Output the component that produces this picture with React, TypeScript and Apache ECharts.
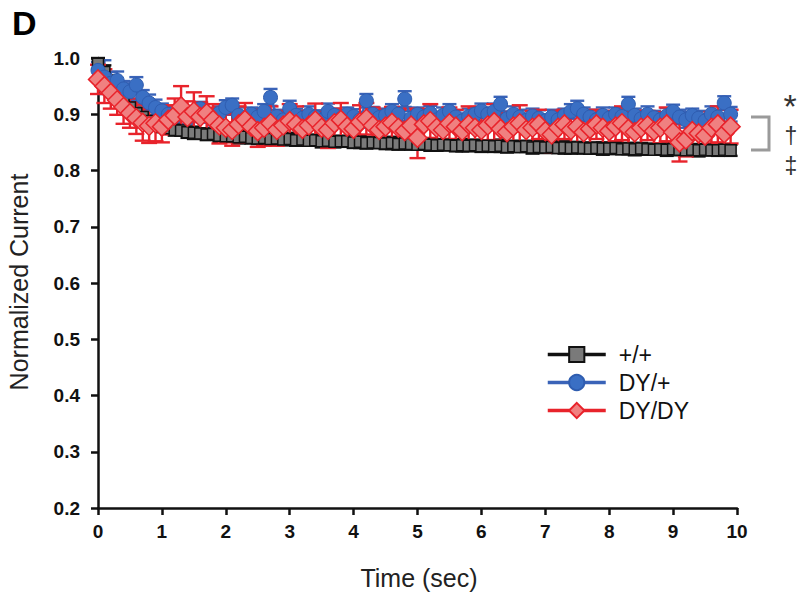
import React, { useEffect, useRef } from "react";
import * as echarts from "echarts";

const TIME_STEP = 0.1;

const WT_VALUES = [
  0.99, 0.975, 0.957, 0.94, 0.925, 0.912, 0.902, 0.895, 0.888, 0.882,
  0.878, 0.875, 0.872, 0.871, 0.868, 0.867, 0.866, 0.864, 0.865, 0.862,
  0.861, 0.861, 0.859, 0.86, 0.858, 0.857, 0.858, 0.856, 0.857, 0.855,
  0.856, 0.854, 0.855, 0.853, 0.854, 0.852, 0.853, 0.851, 0.852, 0.852,
  0.85, 0.851, 0.849, 0.85, 0.849, 0.848, 0.849, 0.847, 0.848, 0.847,
  0.846, 0.847, 0.846, 0.845, 0.846, 0.845, 0.844, 0.845, 0.844, 0.845,
  0.843, 0.844, 0.843, 0.844, 0.842, 0.843, 0.842, 0.843, 0.841, 0.842,
  0.841, 0.842, 0.84, 0.841, 0.84, 0.841, 0.84, 0.839, 0.84, 0.839,
  0.839, 0.84, 0.838, 0.839, 0.838, 0.839, 0.838, 0.837, 0.838, 0.837,
  0.838, 0.837, 0.836, 0.837, 0.836, 0.837, 0.836, 0.836, 0.837, 0.836,
];
const WT_ERR = [
  0.01, 0.012, 0.012, 0.011, 0.011, 0.01, 0.01, 0.01, 0.011, 0.01,
  0.01, 0.009, 0.01, 0.009, 0.01, 0.011, 0.009, 0.01, 0.01, 0.011,
  0.01, 0.01, 0.011, 0.009, 0.01, 0.01, 0.011, 0.01, 0.009, 0.01,
  0.011, 0.01, 0.01, 0.009, 0.01, 0.011, 0.01, 0.01, 0.01, 0.009,
  0.01, 0.011, 0.01, 0.01, 0.009, 0.01, 0.011, 0.01, 0.01, 0.01,
  0.009, 0.01, 0.011, 0.01, 0.01, 0.009, 0.01, 0.011, 0.01, 0.01,
  0.01, 0.009, 0.01, 0.011, 0.01, 0.01, 0.009, 0.01, 0.011, 0.01,
  0.01, 0.01, 0.009, 0.011, 0.01, 0.01, 0.01, 0.009, 0.01, 0.011,
  0.01, 0.01, 0.009, 0.01, 0.011, 0.01, 0.01, 0.009, 0.01, 0.011,
  0.01, 0.01, 0.009, 0.01, 0.011, 0.01, 0.009, 0.01, 0.01, 0.01,
];

const HET_VALUES = [
  0.978, 0.966, 0.955, 0.96, 0.945, 0.94, 0.952, 0.93, 0.92, 0.912,
  0.906, 0.9, 0.898, 0.905, 0.896, 0.9, 0.91, 0.898, 0.894, 0.902,
  0.912, 0.916, 0.898, 0.892, 0.9, 0.895, 0.905, 0.93, 0.896, 0.89,
  0.91, 0.898, 0.893, 0.9, 0.895, 0.889, 0.905, 0.898, 0.892, 0.9,
  0.896, 0.89, 0.924, 0.9, 0.894, 0.898, 0.905, 0.9, 0.927, 0.893,
  0.9, 0.895, 0.902, 0.89, 0.898, 0.905, 0.895, 0.888, 0.896, 0.9,
  0.906, 0.9, 0.905, 0.918, 0.892, 0.9, 0.895, 0.889, 0.897, 0.893,
  0.888, 0.895, 0.89, 0.898, 0.905, 0.91, 0.9, 0.895, 0.89, 0.898,
  0.893, 0.9, 0.896, 0.918, 0.898, 0.892, 0.9, 0.894, 0.89, 0.897,
  0.905, 0.895, 0.89, 0.898, 0.893, 0.888, 0.9, 0.895, 0.92, 0.9,
];
const HET_ERR = [
  0.015, 0.03, 0.02, 0.016, 0.014, 0.015, 0.014, 0.013, 0.015, 0.014,
  0.013, 0.014, 0.012, 0.015, 0.013, 0.014, 0.012, 0.013, 0.014, 0.012,
  0.013, 0.012, 0.014, 0.013, 0.012, 0.014, 0.013, 0.015, 0.012, 0.013,
  0.014, 0.012, 0.013, 0.014, 0.012, 0.013, 0.014, 0.012, 0.013, 0.012,
  0.013, 0.014, 0.012, 0.013, 0.014, 0.012, 0.013, 0.012, 0.014, 0.013,
  0.012, 0.014, 0.013, 0.012, 0.014, 0.013, 0.012, 0.013, 0.014, 0.012,
  0.013, 0.012, 0.014, 0.013, 0.012, 0.014, 0.013, 0.012, 0.013, 0.014,
  0.012, 0.013, 0.014, 0.012, 0.013, 0.014, 0.012, 0.013, 0.012, 0.014,
  0.013, 0.012, 0.014, 0.013, 0.012, 0.013, 0.014, 0.012, 0.013, 0.014,
  0.012, 0.013, 0.014, 0.012, 0.013, 0.012, 0.014, 0.013, 0.012, 0.013,
];

const HOM_VALUES = [
  0.962, 0.95, 0.938, 0.925, 0.913, 0.902, 0.893, 0.885, 0.879, 0.884,
  0.878, 0.89, 0.898, 0.914, 0.895, 0.905, 0.895, 0.902, 0.89, 0.88,
  0.876, 0.872, 0.882, 0.89, 0.878, 0.87, 0.876, 0.884, 0.872, 0.88,
  0.888, 0.882, 0.874, 0.88, 0.889, 0.876, 0.872, 0.884, 0.89, 0.878,
  0.874, 0.886, 0.892, 0.88, 0.872, 0.878, 0.885, 0.876, 0.87, 0.88,
  0.858, 0.882, 0.888, 0.876, 0.872, 0.884, 0.878, 0.87, 0.882, 0.876,
  0.872, 0.88, 0.886, 0.874, 0.868, 0.878, 0.884, 0.872, 0.876, 0.882,
  0.87, 0.864, 0.876, 0.882, 0.872, 0.878, 0.868, 0.874, 0.882, 0.876,
  0.87, 0.878, 0.884, 0.874, 0.868, 0.876, 0.88, 0.87, 0.876, 0.882,
  0.868, 0.85, 0.855, 0.87, 0.866, 0.862, 0.876, 0.882, 0.866, 0.878,
];
const HOM_ERR = [
  0.026, 0.03, 0.028, 0.026, 0.03, 0.026, 0.028, 0.032, 0.03, 0.032,
  0.028, 0.026, 0.03, 0.036, 0.028, 0.034, 0.026, 0.03, 0.028, 0.032,
  0.026, 0.028, 0.032, 0.03, 0.026, 0.028, 0.032, 0.03, 0.028, 0.026,
  0.03, 0.032, 0.028, 0.026, 0.03, 0.028, 0.032, 0.026, 0.03, 0.028,
  0.026, 0.03, 0.028, 0.032, 0.026, 0.03, 0.028, 0.032, 0.026, 0.03,
  0.036, 0.028, 0.03, 0.026, 0.032, 0.028, 0.03, 0.026, 0.032, 0.028,
  0.03, 0.026, 0.032, 0.028, 0.03, 0.026, 0.032, 0.028, 0.03, 0.026,
  0.028, 0.032, 0.03, 0.026, 0.028, 0.032, 0.03, 0.028, 0.026, 0.03,
  0.028, 0.026, 0.03, 0.032, 0.028, 0.03, 0.026, 0.032, 0.028, 0.03,
  0.026, 0.034, 0.03, 0.028, 0.032, 0.03, 0.028, 0.032, 0.032, 0.03,
];

const SERIES_NAMES = ["+/+", "DY/+", "DY/DY"];
const Y_TICKS = [0.2, 0.3, 0.4, 0.5, 0.6, 0.7, 0.8, 0.9, 1.0];
const X_TICKS = [0, 1, 2, 3, 4, 5, 6, 7, 8, 9, 10];
const SIG_MARKS = ["*", "\u2020", "\u2021"];

const FONT = "'Liberation Sans', Arial, Helvetica, sans-serif";

function toPoints(vals: number[], errs: number[]) {
  return vals.map((v, i) => [Number((i * TIME_STEP).toFixed(2)), v, errs[i]]);
}

function errorSeries(name: string, data: number[][], color: string, cap: number) {
  return {
    type: "custom",
    name,
    data,
    encode: { x: 0, y: 1 },
    silent: true,
    renderItem: (_params: any, api: any) => {
      const x = api.value(0);
      const y = api.value(1);
      const e = api.value(2);
      const hi = api.coord([x, y + e]);
      const lo = api.coord([x, y - e]);
      const st = { stroke: color, lineWidth: 2.4 };
      return {
        type: "group",
        children: [
          { type: "line", shape: { x1: hi[0], y1: hi[1], x2: lo[0], y2: lo[1] }, style: st },
          { type: "line", shape: { x1: hi[0] - cap, y1: hi[1], x2: hi[0] + cap, y2: hi[1] }, style: st },
          { type: "line", shape: { x1: lo[0] - cap, y1: lo[1], x2: lo[0] + cap, y2: lo[1] }, style: st },
        ],
      };
    },
  };
}

export default function App() {
  const ref = useRef<HTMLDivElement>(null);
  useEffect(() => {
    if (!ref.current) return;
    const chart = echarts.init(ref.current, null, { renderer: "svg" });
    const wt = toPoints(WT_VALUES, WT_ERR);
    const het = toPoints(HET_VALUES, HET_ERR);
    const hom = toPoints(HOM_VALUES, HOM_ERR);

    chart.setOption({
      animation: false,
      backgroundColor: "#ffffff",
      textStyle: { fontFamily: FONT },
      grid: { left: 98, top: 58, width: 639, height: 450, containLabel: false, outerBoundsMode: "none" },
      xAxis: {
        type: "value",
        min: X_TICKS[0],
        max: X_TICKS[X_TICKS.length - 1],
        interval: 1,
        axisLine: { show: true, onZero: false, lineStyle: { color: "#111", width: 2.5 } },
        axisTick: { show: true, inside: false, length: 7, lineStyle: { color: "#111", width: 2.5 } },
        axisLabel: { color: "#111", fontSize: 19, fontWeight: "bold", fontFamily: FONT, margin: 14 },
        splitLine: { show: false },
      },
      yAxis: {
        type: "value",
        min: Y_TICKS[0],
        max: Y_TICKS[Y_TICKS.length - 1],
        interval: 0.1,
        axisLine: { show: true, onZero: false, lineStyle: { color: "#111", width: 2.5 } },
        axisTick: { show: true, inside: false, length: 7, lineStyle: { color: "#111", width: 2.5 } },
        axisLabel: {
          color: "#111",
          fontSize: 19,
          fontWeight: "bold",
          fontFamily: FONT,
          margin: 18,
          formatter: (v: number) => v.toFixed(1),
        },
        splitLine: { show: false },
      },
      legend: {
        data: SERIES_NAMES,
        orient: "vertical",
        left: 546,
        top: 343,
        padding: 0,
        itemWidth: 58,
        itemHeight: 19,
        itemGap: 5,
        lineStyle: { width: 3.5 },
        textStyle: { fontSize: 23, color: "#111", fontFamily: FONT, padding: [0, 0, 0, 8] },
      },
      series: [
        errorSeries("wt-err", wt, "#111111", 7),
        {
          type: "line",
          name: SERIES_NAMES[0],
          data: wt.map((p) => [p[0], p[1]]),
          symbol: "rect",
          symbolSize: 11,
          showAllSymbol: true,
          lineStyle: { color: "#111111", width: 2.5 },
          itemStyle: { color: "#7a7a7a", borderColor: "#111111", borderWidth: 1.5 },
        },
        errorSeries("het-err", het, "#3a63b8", 7),
        {
          type: "line",
          name: SERIES_NAMES[1],
          data: het.map((p) => [p[0], p[1]]),
          symbol: "circle",
          symbolSize: 14,
          showAllSymbol: true,
          lineStyle: { color: "#3a63b8", width: 2.5 },
          itemStyle: { color: "#3a6fc4", borderColor: "#2f5db0", borderWidth: 1 },
        },
        errorSeries("hom-err", hom, "#e8232b", 8),
        {
          type: "line",
          name: SERIES_NAMES[2],
          data: hom.map((p) => [p[0], p[1]]),
          symbol: "diamond",
          symbolSize: 19,
          showAllSymbol: true,
          lineStyle: { color: "#e8232b", width: 2.5 },
          itemStyle: { color: "#f08080", borderColor: "#e8232b", borderWidth: 1.5 },
        },
      ],
      graphic: [
        {
          type: "text",
          left: 12,
          top: 6,
          style: { text: "D", font: `bold 34px ${FONT}`, fill: "#000" },
        },
        {
          type: "text",
          x: 19,
          y: 282,
          rotation: Math.PI / 2,
          style: {
            text: "Normalized Current",
            font: `25px ${FONT}`,
            fill: "#222",
            textAlign: "center",
            textVerticalAlign: "middle",
          },
        },
        {
          type: "text",
          x: 419,
          y: 578,
          style: {
            text: "Time (sec)",
            font: `25px ${FONT}`,
            fill: "#222",
            textAlign: "center",
            textVerticalAlign: "middle",
          },
        },
        {
          type: "polyline",
          shape: { points: [[751, 117], [769, 117], [769, 150], [751, 150]] },
          style: { stroke: "#9a9a9a", lineWidth: 3, fill: null },
        },
        {
          type: "text",
          x: 790,
          y: 106,
          style: { text: SIG_MARKS[0], font: `34px ${FONT}`, fill: "#333", textAlign: "center", textVerticalAlign: "middle" },
        },
        {
          type: "text",
          x: 791,
          y: 136,
          style: { text: SIG_MARKS[1], font: `23px ${FONT}`, fill: "#333", textAlign: "center", textVerticalAlign: "middle" },
        },
        {
          type: "text",
          x: 791,
          y: 166,
          style: { text: SIG_MARKS[2], font: `23px ${FONT}`, fill: "#333", textAlign: "center", textVerticalAlign: "middle" },
        },
      ],
    });
    return () => chart.dispose();
  }, []);
  return (
    <div
      ref={ref}
      style={{ position: "fixed", left: 0, top: 0, width: 799, height: 594, background: "#fff" }}
    />
  );
}
